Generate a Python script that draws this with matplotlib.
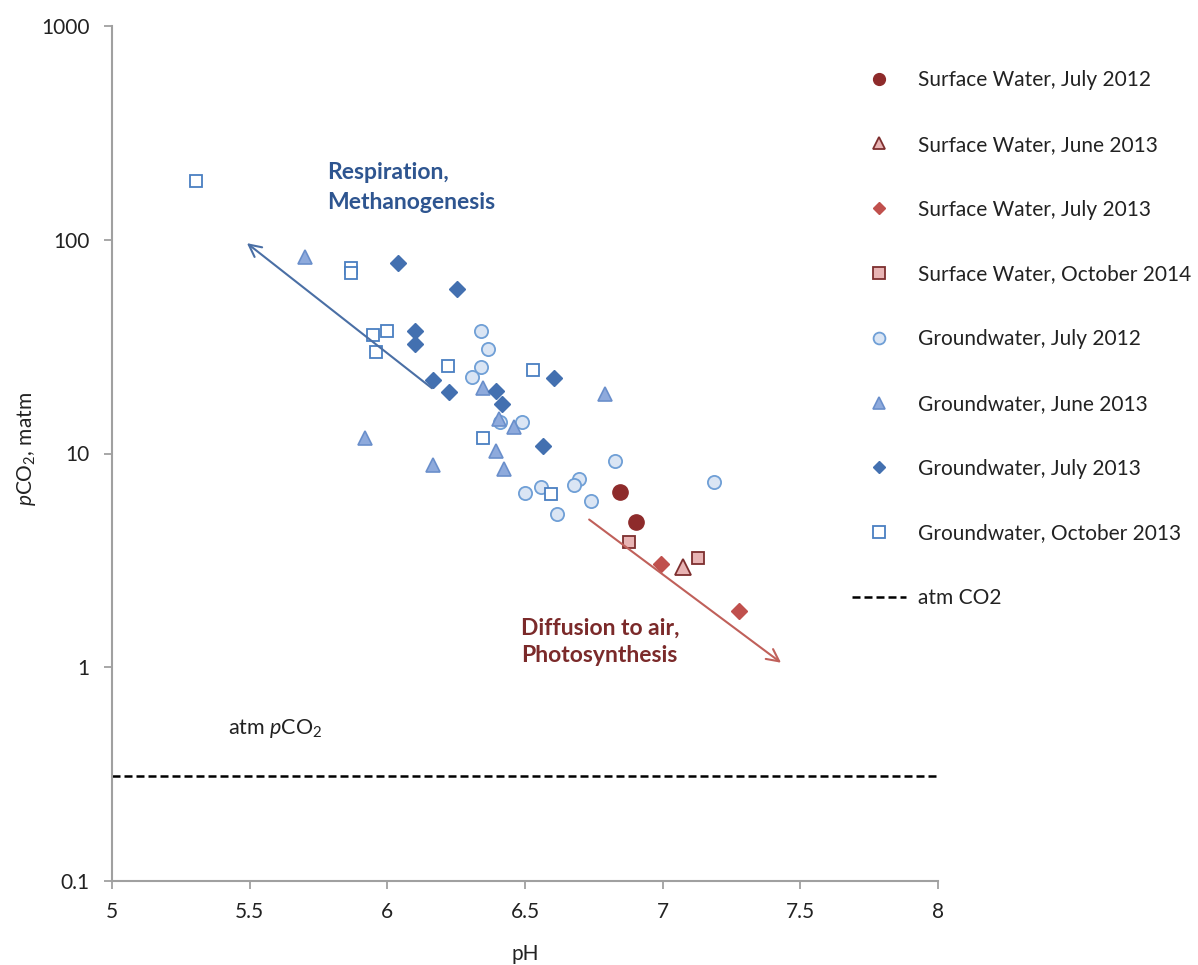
import matplotlib
matplotlib.use('Agg')
import matplotlib.pyplot as plt
from matplotlib.lines import Line2D
from matplotlib.ticker import FixedLocator, FixedFormatter, NullLocator

plt.rcParams['font.family'] = ['Lato', 'DejaVu Sans']
plt.rcParams['mathtext.fontset'] = 'custom'
plt.rcParams['mathtext.rm'] = 'Lato'
plt.rcParams['mathtext.it'] = 'Lato:italic'
plt.rcParams['mathtext.bf'] = 'Lato:bold'

# ---------------- data ----------------
sw_jul2012_ph = [6.845, 6.903]
sw_jul2012_pco2 = [6.59, 4.77]
sw_jun2013_ph = [7.073]
sw_jun2013_pco2 = [2.93]
sw_jul2013_ph = [6.993, 7.276]
sw_jul2013_pco2 = [3.04, 1.83]
sw_oct2014_ph = [6.879, 7.130]
sw_oct2014_pco2 = [3.84, 3.23]

gw_jul2012_ph = [6.339, 6.367, 6.339, 6.308, 6.409, 6.488, 6.827, 6.696, 6.678,
                 6.557, 6.500, 6.739, 6.615, 7.187]
gw_jul2012_pco2 = [37.4, 30.9, 25.4, 22.9, 14.1, 14.1, 9.2, 7.61, 7.16,
                   6.95, 6.52, 6.02, 5.22, 7.39]
gw_jun2013_ph = [5.701, 6.349, 6.406, 6.461, 6.791, 5.919, 6.165, 6.394, 6.425]
gw_jun2013_pco2 = [82.8, 20.2, 14.5, 13.3, 18.9, 11.8, 8.79, 10.3, 8.48]
gw_jul2013_ph = [6.039, 6.253, 6.101, 6.101, 6.165, 6.223, 6.394, 6.416, 6.606, 6.565]
gw_jul2013_pco2 = [77.6, 58.6, 37.4, 32.4, 22.0, 19.4, 19.7, 17.0, 22.6, 10.8]
gw_oct2013_ph = [5.305, 5.868, 5.868, 5.949, 5.998, 5.959, 6.221, 6.528, 6.347, 6.594]
gw_oct2013_pco2 = [188, 73.5, 69.7, 35.7, 37.3, 29.8, 25.6, 24.7, 11.8, 6.47]

atm_pco2 = 0.31

series_labels = ['Surface Water, July 2012', 'Surface Water, June 2013',
                 'Surface Water, July 2013', 'Surface Water, October 2014',
                 'Groundwater, July 2012', 'Groundwater, June 2013',
                 'Groundwater, July 2013', 'Groundwater, October 2013']
atm_label = 'atm CO2'

x_ticks = [5, 5.5, 6, 6.5, 7, 7.5, 8]
x_ticklabels = ['5', '5.5', '6', '6.5', '7', '7.5', '8']
y_ticks = [0.1, 1, 10, 100, 1000]
y_ticklabels = ['0.1', '1', '10', '100', '1000']

# arrows (tail -> head)
resp_tail = (6.162, 20.2)
resp_head = (5.490, 96.4)
diff_tail = (6.733, 4.91)
diff_head = (7.430, 1.05)

# ---------------- styles ----------------
styles = [
    dict(marker='o', ms=11, mfc='#8e2b2b', mec='#8e2b2b', mew=1.0),
    dict(marker='^', ms=11, mfc='#e8b4b4', mec='#7d2e2e', mew=1.3),
    dict(marker='D', ms=8, mfc='#c0504d', mec='#c0504d', mew=1.0),
    dict(marker='s', ms=8.5, mfc='#e8b4b4', mec='#7d2e2e', mew=1.3),
    dict(marker='o', ms=9.5, mfc='#dae5f4', mec='#6f9fd6', mew=1.3),
    dict(marker='^', ms=9.5, mfc='#8eaadc', mec='#6a8fcb', mew=1.2),
    dict(marker='D', ms=8, mfc='#4370b0', mec='#4370b0', mew=1.0),
    dict(marker='s', ms=8.5, mfc='white', mec='#4a7fc1', mew=1.3),
]
data = [
    (sw_jul2012_ph, sw_jul2012_pco2), (sw_jun2013_ph, sw_jun2013_pco2),
    (sw_jul2013_ph, sw_jul2013_pco2), (sw_oct2014_ph, sw_oct2014_pco2),
    (gw_jul2012_ph, gw_jul2012_pco2), (gw_jun2013_ph, gw_jun2013_pco2),
    (gw_jul2013_ph, gw_jul2013_pco2), (gw_oct2013_ph, gw_oct2013_pco2),
]

fig = plt.figure(figsize=(11.98, 9.65), dpi=100)
ax = fig.add_axes([112 / 1198, 1 - 881 / 965, (938 - 112) / 1198, (881 - 26) / 965])

ax.set_yscale('log')
ax.set_xlim(5, 8)
ax.set_ylim(0.1, 1000)

# draw groundwater first, then surface water on top
order = [4, 5, 6, 7, 0, 1, 2, 3]
for i in order:
    x, y = data[i]
    ax.plot(x, y, linestyle='none', zorder=3, **styles[i])

ax.axhline(atm_pco2, color='black', lw=1.8, dashes=(3.2, 1.6), zorder=2)

ax.annotate('', xy=resp_head, xytext=resp_tail,
            arrowprops=dict(arrowstyle='->', color='#4a6fa5', lw=1.5,
                            mutation_scale=22, shrinkA=0, shrinkB=0))
ax.annotate('', xy=diff_head, xytext=diff_tail,
            arrowprops=dict(arrowstyle='->', color='#c0605a', lw=1.5,
                            mutation_scale=22, shrinkA=0, shrinkB=0))

ax.text(5.781, 176, 'Respiration,\nMethanogenesis', color='#2e5590',
        fontsize=16.5, fontweight='bold', ha='left', va='center', linespacing=1.5)
ax.text(6.486, 1.316, 'Diffusion to air,\nPhotosynthesis', color='#7b2a2a',
        fontsize=16.5, fontweight='bold', ha='left', va='center', linespacing=1.4)
ax.text(5.421, 0.515, r'atm $\mathit{p}$CO$_2$', color='#222222',
        fontsize=15.5, ha='left', va='center')

# axes styling
for side in ['top', 'right']:
    ax.spines[side].set_visible(False)
for side in ['left', 'bottom']:
    ax.spines[side].set_color('#a0a0a0')
    ax.spines[side].set_linewidth(1.5)

ax.xaxis.set_major_locator(FixedLocator(x_ticks))
ax.xaxis.set_major_formatter(FixedFormatter(x_ticklabels))
ax.yaxis.set_major_locator(FixedLocator(y_ticks))
ax.yaxis.set_major_formatter(FixedFormatter(y_ticklabels))
ax.yaxis.set_minor_locator(NullLocator())
ax.tick_params(axis='both', which='major', direction='out', length=6, width=1.3,
               color='#a0a0a0', labelsize=15, labelcolor='#222222')
ax.tick_params(axis='x', pad=9)
ax.tick_params(axis='y', pad=10)

ax.set_xlabel('pH', fontsize=15, color='#222222')
ax.set_ylabel(r'$\mathit{p}$CO$_2$, matm', fontsize=15, color='#222222')
ax.xaxis.set_label_coords(0.5, -0.0737)
ax.yaxis.set_label_coords(-0.0896, 0.505)

# legend
handles = []
for i in range(8):
    st = dict(styles[i])
    st['ms'] = 8.5 if st['marker'] != 'D' else 6.5
    handles.append(Line2D([], [], linestyle='none', **st))
handles.append(Line2D([], [], color='black', lw=1.8, dashes=(3.2, 1.6)))
labels = series_labels + [atm_label]
fig.legend(handles, labels, loc='upper left', bbox_to_anchor=(852 / 1198, 1 - 70 / 965),
           frameon=False, fontsize=15, labelspacing=2.15, handlelength=2.6,
           handletextpad=0.55, borderpad=0, borderaxespad=0, labelcolor='#222222')

fig.savefig('out.png', dpi=100)
